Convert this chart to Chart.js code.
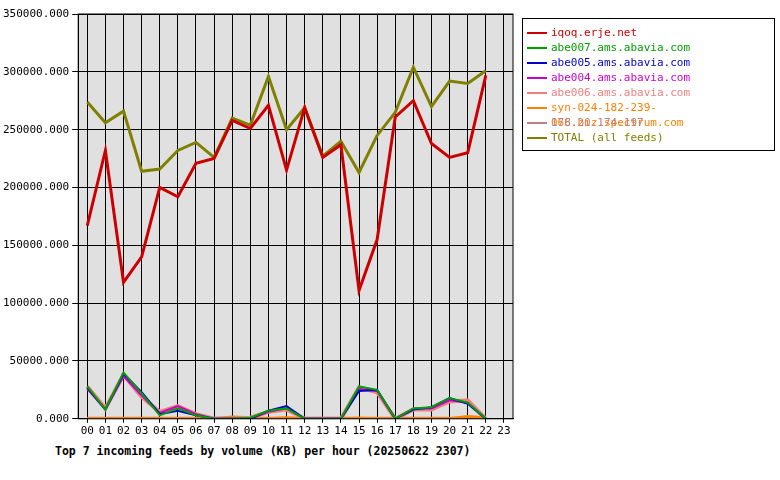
<!DOCTYPE html>
<html><head>
<script src="https://cdn.jsdelivr.net/npm/chart.js@4"></script>
<style>
body{margin:0;background:#fff;width:780px;height:480px;position:relative;font-family:"DejaVu Sans Mono",monospace;}
#wrap{position:absolute;left:0;top:0;width:525px;height:440px;}
#legend{position:absolute;left:522px;top:18px;width:251px;height:131px;border:1px solid #000;font-size:11px;}
#legend div{height:15px;line-height:15px;padding-left:28px;position:relative;margin-top:0px;}
#legend span{position:absolute;left:4px;top:7px;width:20px;height:2px;}
#titulo{position:absolute;left:55px;top:444px;font-size:11.5px;font-weight:bold;}
</style>
</head><body>
<div id="wrap"><canvas id="myChart"></canvas></div>
<div id="legend"></div>
<div id="titulo">Top 7 incoming feeds by volume (KB) per hour (20250622 2307)</div>
<script>
var horas = ['00','01','02','03','04','05','06','07','08','09','10','11','12','13','14','15','16','17','18','19','20','21','22','23'];
var nombres = ['iqoq.erje.net','abe007.ams.abavia.com','abe005.ams.abavia.com','abe004.ams.abavia.com','abe006.ams.abavia.com','syn-024-182-239-066.biz.spectrum.com','178.20.174.197','TOTAL (all feeds)'];
var colores = ['#cc0000','#00a000','#0000cc','#cc00cc','#f08080','#ff8000','#c08080','#808000'];
var iqoq = [167000,232000,118000,140000,200000,192000,221000,225000,258000,251000,271000,215000,269000,226000,237000,111000,155000,261000,275000,238000,226000,230000,297000];
var abe007 = [28000,8000,40000,22000,3000,9000,3000,0,0,1000,7000,9000,0,0,0,28000,25000,0,9000,10000,18000,14000,0];
var abe005 = [27000,8000,39000,23000,4000,7000,3000,0,0,0,7000,11000,0,0,0,24000,25000,0,8000,10000,18000,13000,0];
var abe004 = [26000,8000,37000,20000,5000,11000,4000,0,0,0,6000,9000,0,0,0,26000,24000,0,9000,9000,16000,14000,0];
var abe006 = [28000,9000,38000,19000,6000,11000,4000,0,0,1000,6000,8000,0,0,0,27000,23000,0,8000,8000,15000,16000,0];
var syn = [0,0,0,0,0,0,0,0,1500,1000,0,1000,0,0,0,500,0,0,0,0,0,2000,1000];
var ip178 = [500,500,500,500,500,500,500,500,500,500,500,500,500,500,500,500,500,500,500,500,500,500,500];
var total = [274000,256000,266000,214000,216000,232000,239000,226000,260000,254000,296000,250000,269000,227000,240000,213000,245000,265000,304000,270000,292000,290000,301000];
var series = [iqoq,abe007,abe005,abe004,abe006,syn,ip178,total];
var anchos = [3,2,2,2,4,3,3,3];

var datasets = [];
for (var i in series){
  datasets.push({label:nombres[i],data:series[i],borderColor:colores[i],borderWidth:anchos[i],pointRadius:0,tension:0,
    order:(i==0||i==7)?0:1});
}
var leg = document.getElementById('legend');
for (var i in nombres){
  leg.innerHTML += '<div style="color:'+colores[i]+'"><span style="background:'+colores[i]+'"></span>'+nombres[i]+'</div>';
}
leg.firstChild.style.marginTop='6px';

var fondo = {id:'fondo',beforeDraw:function(c){var a=c.chartArea,x=c.ctx;x.save();x.fillStyle='#e0e0e0';x.fillRect(a.left,a.top,a.right-a.left,a.bottom-a.top);x.restore();},
  afterDraw:function(c){var a=c.chartArea,x=c.ctx;x.save();x.strokeStyle='#000';x.lineWidth=1;x.strokeRect(a.left,a.top,a.right-a.left,a.bottom-a.top);x.restore();}};

Chart.defaults.font.family='"DejaVu Sans Mono", monospace';
Chart.defaults.font.size=11;
Chart.defaults.color='#000';
new Chart(document.getElementById('myChart'),{
  type:'line',
  data:{labels:horas,datasets:datasets},
  options:{responsive:true,maintainAspectRatio:false,animation:false,
    layout:{padding:{top:14,right:12,left:0,bottom:0}},
    plugins:{legend:{display:false},tooltip:{enabled:false}},
    scales:{
      x:{offset:true,grid:{color:'#000',offset:false,drawTicks:true,tickLength:4},border:{color:'#000'},ticks:{maxRotation:0,autoSkip:false,padding:2}},
      y:{min:0,max:350000,grid:{color:'#000',tickLength:6},border:{color:'#000'},
        ticks:{stepSize:50000,callback:function(v){return v.toFixed(3);}}}
    }},
  plugins:[fondo]
});
</script>
</body></html>
